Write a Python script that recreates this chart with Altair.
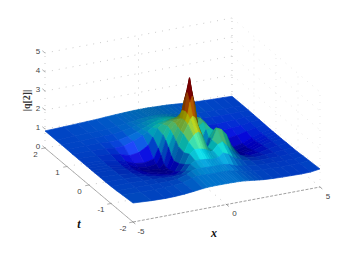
import altair as alt
import pandas as pd
import numpy as np

X_VALUES = [-5, -4, -3.25, -2.75, -2.25, -1.75, -1.25, -1, -.75, -.5, -.25, 0, .125, .25, .375, .5, .625, .75, 1, 1.25, 1.5, 1.75, 2, 2.5, 3, 3.5, 4, 4.5, 5]
T_VALUES = [2, 1.5, 1.25, 1, .75, .5, .25, .125, 0, -.125, -.25, -.5, -.75, -1, -1.25, -1.5, -2]
Z_ROWS = [
 [.90,.93,.96,.98,1.00,1.03,1.06,1.07,1.08,1.09,1.10,1.10,1.10,1.10,1.10,1.10,1.09,1.09,1.08,1.07,1.06,1.04,1.02,.98,.95,.93,.91,.90,.88],
 [.90,.93,.95,.96,.98,1.03,1.09,1.12,1.15,1.18,1.20,1.22,1.22,1.22,1.22,1.21,1.20,1.19,1.15,1.12,1.09,1.05,1.02,.96,.92,.90,.89,.88,.88],
 [.90,.92,.93,.93,.95,1.02,1.12,1.18,1.24,1.30,1.34,1.36,1.37,1.37,1.36,1.35,1.33,1.31,1.24,1.18,1.11,1.05,.99,.91,.87,.86,.86,.87,.88],
 [.90,.91,.90,.88,.88,.98,1.13,1.22,1.32,1.42,1.50,1.55,1.57,1.58,1.58,1.57,1.55,1.52,1.42,1.30,1.15,1.00,.90,.80,.76,.77,.80,.84,.87],
 [.89,.89,.85,.80,.80,.98,1.18,1.34,1.50,1.62,1.68,1.72,1.74,1.76,1.77,1.78,1.78,1.78,1.70,1.50,1.22,.98,.80,.66,.66,.70,.75,.82,.86],
 [.89,.87,.80,.70,.55,.62,.90,1.30,1.70,1.88,1.96,2.02,2.05,2.08,2.10,2.10,2.10,2.05,2.00,1.95,1.62,1.20,.80,.45,.50,.55,.68,.78,.85],
 [.89,.85,.74,.58,.38,.32,.42,.95,1.62,2.02,2.22,2.30,2.42,2.62,2.80,2.62,2.30,2.12,2.00,2.12,1.85,1.38,.90,.42,.28,.38,.60,.76,.84],
 [.89,.85,.72,.52,.30,.22,.28,.70,1.45,1.95,2.25,2.45,2.85,3.40,3.85,3.40,2.80,2.25,1.85,2.02,1.80,1.35,.88,.40,.25,.36,.58,.75,.84],
 [.89,.84,.70,.50,.28,.18,.15,.38,1.20,1.80,2.18,2.55,2.95,3.90,4.65,3.90,2.90,2.25,1.25,1.75,1.78,1.30,.84,.38,.25,.36,.58,.75,.84],
 [.89,.84,.70,.52,.32,.24,.18,.28,.88,1.62,2.10,2.55,2.90,3.50,3.80,3.35,2.45,1.60,.78,1.45,1.80,1.35,.88,.42,.32,.42,.62,.76,.84],
 [.89,.85,.72,.56,.40,.32,.24,.30,.72,1.42,2.05,2.50,2.75,2.90,2.80,2.45,1.75,.95,.70,1.55,2.05,1.75,1.15,.50,.42,.50,.66,.78,.84],
 [.89,.86,.76,.64,.52,.44,.36,.45,.82,1.35,1.85,2.15,2.25,2.30,2.22,2.00,1.60,1.40,1.75,2.30,2.20,1.90,1.30,.66,.56,.62,.72,.80,.85],
 [.89,.88,.83,.76,.68,.62,.58,.70,1.02,1.52,1.72,1.70,1.68,1.65,1.60,1.52,1.45,1.48,1.75,1.85,1.60,1.30,1.08,.80,.72,.74,.78,.82,.85],
 [.90,.89,.88,.85,.82,.80,.84,.98,1.28,1.42,1.42,1.40,1.38,1.36,1.34,1.33,1.34,1.38,1.55,1.45,1.25,1.10,1.00,.86,.81,.81,.82,.84,.86],
 [.92,.90,.89,.89,.89,.92,1.08,1.22,1.28,1.28,1.26,1.25,1.24,1.24,1.24,1.24,1.24,1.24,1.20,1.10,1.02,.97,.93,.88,.86,.85,.85,.85,.89],
 [.95,.90,.90,.91,.93,.98,1.12,1.18,1.19,1.18,1.17,1.16,1.16,1.16,1.16,1.16,1.15,1.15,1.10,1.04,.99,.95,.92,.88,.87,.86,.86,.86,.91],
 [1.00,.94,.92,.93,.96,1.01,1.07,1.09,1.10,1.10,1.10,1.10,1.10,1.10,1.09,1.09,1.09,1.08,1.06,1.03,1.00,.97,.94,.91,.89,.88,.87,.88,.95],
]
Z_TICKS = [0, 1, 2, 3, 4, 5]
T_TICKS = [-2, -1, 0, 1, 2]
X_TICKS = [-5, 0, 5]


def sx(x, t, z=0):
    return 182.5 + 18.7 * x - 22.0 * t


def sy(x, t, z=0):
    return 167.5 - 3.5 * x - 18.5 * t - 19.0 * z


def jet(v):
    v = min(max(v, 0.0), 1.0)
    r = np.clip(min(4 * v - 1.5, -4 * v + 4.5), 0, 1)
    g = np.clip(min(4 * v - 0.5, -4 * v + 3.5), 0, 1)
    b = np.clip(min(4 * v + 0.5, -4 * v + 2.5), 0, 1)
    return np.array([r, g, b])


LIGHT = np.array([0.05, 0.98, 0.19])
LIGHT = LIGHT / np.linalg.norm(LIGHT)
HALF = LIGHT + np.array([0, 0, 1.0])
HALF = HALF / np.linalg.norm(HALF)
VMAX = 4.3
AX3 = np.array([18.7, 3.5, -8.1])
AT3 = np.array([-22.0, 18.5, -42.8])
AZ3 = np.array([0.0, 19.0, 8.2])

Z = np.array(Z_ROWS, dtype=float)
assert Z.shape == (len(T_VALUES), len(X_VALUES))
dz_dt, dz_dx = np.gradient(Z, np.array(T_VALUES, dtype=float), np.array(X_VALUES, dtype=float))

n_t, n_x = Z.shape[0] - 1, Z.shape[1] - 1
SHADE = np.zeros((n_t, n_x))
SPEC = np.zeros((n_t, n_x))
for j in range(n_t):
    for i in range(n_x):
        gx = dz_dx[j:j + 2, i:i + 2].mean()
        gt = dz_dt[j:j + 2, i:i + 2].mean()
        n = np.cross(AX3 + gx * AZ3, AT3 + gt * AZ3)
        n = n / np.linalg.norm(n)
        if n[1] + n[2] < 0:
            n = -n
        SHADE[j, i] = 0.25 + 0.30 * max(0.0, float(n @ LIGHT)) + 0.55 * max(0.0, float(n[2]))
        SPEC[j, i] = 0.6 * max(0.0, float(n @ HALF)) ** 80


def soften(a):
    p = np.pad(a, 1, mode="edge")
    w = np.array([1.0, 2.0, 1.0]) / 4
    p = np.apply_along_axis(lambda r: np.convolve(r, w, mode="same"), 0, p)
    p = np.apply_along_axis(lambda r: np.convolve(r, w, mode="same"), 1, p)
    return p[1:-1, 1:-1]


SHADE = soften(SHADE)
SPEC = soften(SPEC)


def cell_colour(j, i):
    z_mean = Z[j:j + 2, i:i + 2].mean()
    rgb = np.clip(jet(z_mean / VMAX) * SHADE[j, i] + SPEC[j, i], 0, 1)
    return "#%02x%02x%02x" % tuple(int(round(c * 255)) for c in rgb)


# surface quads, painted from the far corner to the near one
rows = []
cell = 0
for j in range(n_t):
    for i in range(n_x - 1, -1, -1):
        q = [(X_VALUES[i], T_VALUES[j], Z_ROWS[j][i]),
             (X_VALUES[i + 1], T_VALUES[j], Z_ROWS[j][i + 1]),
             (X_VALUES[i + 1], T_VALUES[j + 1], Z_ROWS[j + 1][i + 1]),
             (X_VALUES[i], T_VALUES[j + 1], Z_ROWS[j + 1][i])]
        c = cell_colour(j, i)
        for k, (a, b, z) in enumerate(q + q[:1]):
            rows.append({"cell": cell, "k": k, "px": sx(a, b), "py": sy(a, b, z), "c": c})
        cell += 1
surface = pd.DataFrame(rows)

X_ENC = alt.X("px:Q", axis=None, scale=alt.Scale(domain=[8, 347], range=[0, 339]))
Y_ENC = alt.Y("py:Q", axis=None, scale=alt.Scale(domain=[8, 258], range=[0, 250]))


def line_layer(segs, **style):
    recs = []
    for n, s in enumerate(segs):
        for k, p in enumerate(s):
            recs.append({"seg": n, "k": k, "px": sx(*p), "py": sy(*p)})
    return alt.Chart(pd.DataFrame(recs)).mark_line(**style).encode(x=X_ENC, y=Y_ENC, detail="seg:N", order="k:Q")


back_grid = [[(-5, 2, z), (5, 2, z)] for z in Z_TICKS[1:]] + [[(x, 2, 0), (x, 2, 5)] for x in X_TICKS]
wall_grid = [[(5, 2, z), (5, -2, z)] for z in Z_TICKS[1:]] + [[(5, t, 0), (5, t, 5)] for t in T_TICKS]
floor_grid = [[(-5, t, 0), (5, t, 0)] for t in T_TICKS[1:]] + [[(x, -2, 0), (x, 2, 0)] for x in X_TICKS]
t_axis = [[(-5, 2, 0), (-5, -2, 0)]] + [[(-5, t, 0), (-5.2, t, 0)] for t in T_TICKS]
x_axis = [[(-5, -2, 0), (5, -2, 0)]] + [[(x, -2, 0), (x, -2.12, 0)] for x in X_TICKS]
z_ticks = [[(-5, 2, z), (-5, 2.12, z)] for z in Z_TICKS]

labels = []
for z in Z_TICKS:
    labels.append({"px": sx(-5, 2) - 7, "py": sy(-5, 2, z) - 1.5, "s": str(z)})
for t in T_TICKS:
    labels.append({"px": sx(-5, t) - 9.5 - (0.5 if t < 0 else 0), "py": sy(-5, t) + 6.5, "s": str(t)})
for x in X_TICKS:
    labels.append({"px": sx(x, -2) + 8, "py": sy(x, -2) + 9.5, "s": str(x)})
tick_text = alt.Chart(pd.DataFrame(labels)).mark_text(
    font="Liberation Sans", fontSize=8, color="#444444", align="center", baseline="middle"
).encode(x=X_ENC, y=Y_ENC, text="s:N")

titles = pd.DataFrame([
    {"px": sx(-5, 0) - 10, "py": sy(-5, 0) + 39, "s": "t"},
    {"px": sx(0, -2) - 12.5, "py": sy(0, -2) + 28.5, "s": "x"},
])
title_text = alt.Chart(titles).mark_text(
    font="Liberation Serif", fontSize=12, fontStyle="italic", fontWeight="bold", color="#111111",
    align="center", baseline="middle"
).encode(x=X_ENC, y=Y_ENC, text="s:N")
z_title = alt.Chart(pd.DataFrame([{"px": sx(-5, 2) - 18, "py": sy(-5, 2, 2.5), "s": "|q[2]|"}])).mark_text(
    font="Liberation Serif", fontSize=10, fontWeight="bold", color="#333333", angle=270,
    align="center", baseline="middle"
).encode(x=X_ENC, y=Y_ENC, text="s:N")

surface_layer = alt.Chart(surface).mark_line(strokeWidth=0.7, strokeJoin="round").encode(
    x=X_ENC, y=Y_ENC, detail="cell:N", order="k:Q",
    color=alt.Color("c:N", scale=None), fill=alt.Fill("c:N", scale=None),
)

chart = alt.layer(
    line_layer(back_grid, color="#a8a8a8", strokeWidth=0.6, strokeDash=[1, 6]),
    line_layer(wall_grid, color="#d8d8d8", strokeWidth=0.6, strokeDash=[1, 6]),
    line_layer(floor_grid, color="#a8a8a8", strokeWidth=0.6, strokeDash=[1, 6]),
    surface_layer,
    line_layer(t_axis, color="#8c8c8c", strokeWidth=0.7),
    line_layer(x_axis, color="#777777", strokeWidth=0.7, strokeDash=[3, 1.5]),
    line_layer(z_ticks, color="#8c8c8c", strokeWidth=0.7),
    tick_text, title_text, z_title,
).properties(width=339, height=250, padding=0, autosize=alt.AutoSizeParams(type="none")).configure_view(stroke=None)

chart.save("out.html", embed_options={"renderer": "svg", "actions": False})
